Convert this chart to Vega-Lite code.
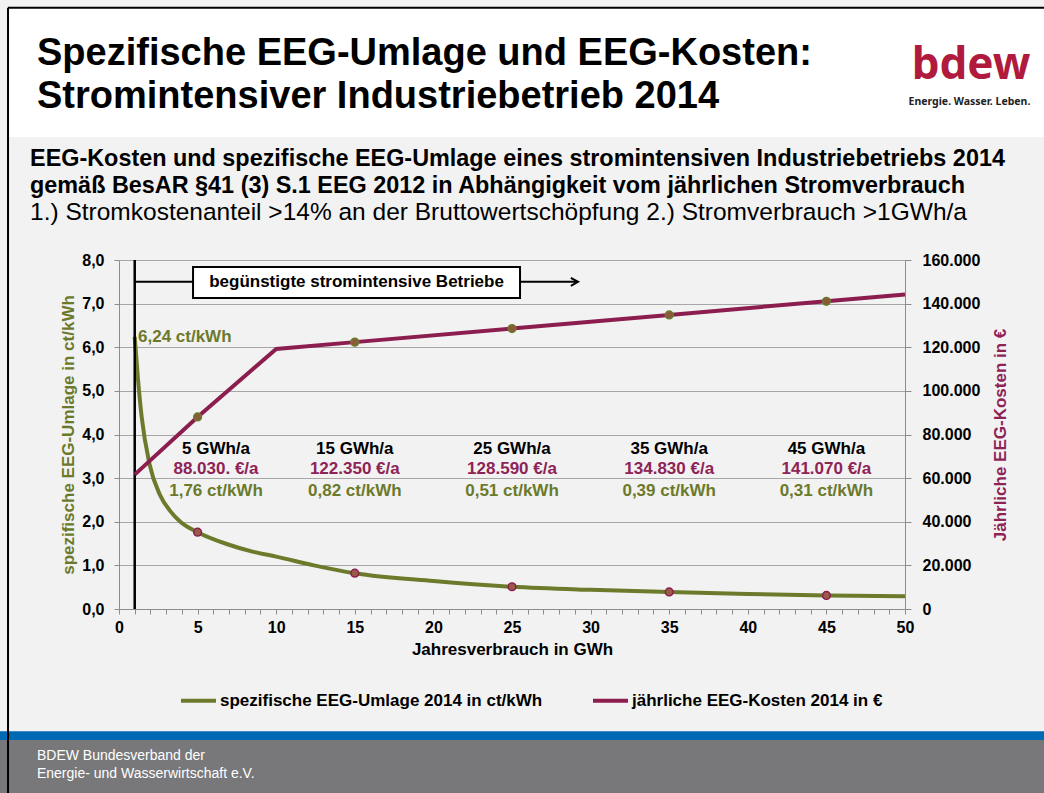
{
  "$schema": "https://vega.github.io/schema/vega-lite/v6.json",
  "width": 786,
  "height": 349,
  "autosize": {"type": "none"},
  "padding": {"left": 119, "top": 260, "right": 139, "bottom": 184},
  "background": "#f2f2f2",
  "config": {
    "locale": {"number": {"decimal": ",", "thousands": ".", "grouping": [3], "currency": ["", " €"]}},
    "font": "Liberation Sans",
    "view": {"stroke": null},
    "axis": {
      "domainColor": "#8c8c8c",
      "tickColor": "#8c8c8c",
      "gridColor": "#a6a6a6",
      "labelFont": "Liberation Sans",
      "labelFontWeight": "bold",
      "labelFontSize": 16,
      "labelColor": "#000000",
      "titleFont": "Liberation Sans",
      "titleFontWeight": "bold",
      "titleFontSize": 17,
      "titleColor": "#000000"
    },
    "axisX": {
      "labelExpr": "datum.value % 5 === 0 ? datum.label : ''",
      "labelOverlap": false,
      "labelFlush": false,
      "grid": false,
      "tickSize": 5,
      "labelPadding": 5,
      "titlePadding": 6
    }
  },
  "title": {
    "text": ["Spezifische EEG-Umlage und EEG-Kosten:", "Stromintensiver Industriebetrieb 2014"],
    "anchor": "start",
    "frame": "group",
    "dx": -82,
    "offset": -109,
    "font": "Liberation Sans",
    "fontSize": 38,
    "fontWeight": "bold",
    "lineHeight": 43,
    "color": "#000000"
  },
  "datasets": {
    "umlage": [
      {"gwh": 1, "ct": 6.24},
      {"gwh": 1.2, "ct": 5.3},
      {"gwh": 1.44, "ct": 4.41},
      {"gwh": 1.93, "ct": 3.34},
      {"gwh": 2.6, "ct": 2.62},
      {"gwh": 3.25, "ct": 2.25},
      {"gwh": 3.9, "ct": 2.0},
      {"gwh": 5, "ct": 1.76},
      {"gwh": 6.85, "ct": 1.49},
      {"gwh": 8.55, "ct": 1.31},
      {"gwh": 10, "ct": 1.2},
      {"gwh": 12.4, "ct": 1.0},
      {"gwh": 15, "ct": 0.82},
      {"gwh": 20, "ct": 0.64},
      {"gwh": 25, "ct": 0.51},
      {"gwh": 30, "ct": 0.44},
      {"gwh": 35, "ct": 0.39},
      {"gwh": 40, "ct": 0.345},
      {"gwh": 45, "ct": 0.31},
      {"gwh": 50, "ct": 0.29}
    ],
    "kosten": [
      {"gwh": 1, "eur": 61600},
      {"gwh": 5, "eur": 88030},
      {"gwh": 10, "eur": 119230},
      {"gwh": 15, "eur": 122350},
      {"gwh": 25, "eur": 128590},
      {"gwh": 35, "eur": 134830},
      {"gwh": 45, "eur": 141070},
      {"gwh": 50, "eur": 144190}
    ],
    "marken": [
      {"gwh": 5, "ct": 1.76, "eur": 88030, "verbrauch": "5 GWh/a", "kosten": "88.030. €/a", "umlage": "1,76 ct/kWh"},
      {"gwh": 15, "ct": 0.82, "eur": 122350, "verbrauch": "15 GWh/a", "kosten": "122.350 €/a", "umlage": "0,82 ct/kWh"},
      {"gwh": 25, "ct": 0.51, "eur": 128590, "verbrauch": "25 GWh/a", "kosten": "128.590 €/a", "umlage": "0,51 ct/kWh"},
      {"gwh": 35, "ct": 0.39, "eur": 134830, "verbrauch": "35 GWh/a", "kosten": "134.830 €/a", "umlage": "0,39 ct/kWh"},
      {"gwh": 45, "ct": 0.31, "eur": 141070, "verbrauch": "45 GWh/a", "kosten": "141.070 €/a", "umlage": "0,31 ct/kWh"}
    ]
  },
  "layer": [
    {
      "layer": [
        {
          "data": {"name": "umlage"},
          "mark": {"type": "line", "interpolate": "monotone", "strokeWidth": 4},
          "encoding": {
            "x": {
              "field": "gwh", "type": "quantitative",
              "scale": {"domain": [0, 50], "nice": false},
              "axis": {
                "title": "Jahresverbrauch in GWh",
                "values": [0,1,2,3,4,5,6,7,8,9,10,11,12,13,14,15,16,17,18,19,20,21,22,23,24,25,26,27,28,29,30,31,32,33,34,35,36,37,38,39,40,41,42,43,44,45,46,47,48,49,50],
                "tickCount": 100,
                "format": "d",
                "labelExpr": "datum.value % 5 === 0 ? datum.label : ''",
                "labelOverlap": false,
                "labelFlush": false,
                "grid": false,
                "tickSize": 5,
                "labelPadding": 5,
                "titlePadding": 6
              }
            },
            "y": {
              "field": "ct", "type": "quantitative",
              "scale": {"domain": [0, 8], "nice": false},
              "axis": {
                "title": "spezifische EEG-Umlage in ct/kWh",
                "titleColor": "#6b7a2a",
                "values": [0, 1, 2, 3, 4, 5, 6, 7, 8],
                "format": ".1f",
                "grid": true,
                "tickSize": 5,
                "labelPadding": 10,
                "titlePadding": 4
              }
            },
            "color": {
              "datum": "spezifische EEG-Umlage 2014 in ct/kWh",
              "scale": {
                "domain": ["spezifische EEG-Umlage 2014 in ct/kWh", "jährliche EEG-Kosten 2014 in €"],
                "range": ["#6b7b2b", "#8c1d4f"]
              },
              "legend": {
                "orient": "none",
                "legendX": 60,
                "legendY": 421,
                "direction": "horizontal",
                "title": null,
                "symbolType": "stroke",
                "symbolSize": 1225,
                "symbolStrokeWidth": 4,
                "labelFont": "Liberation Sans",
                "labelFontSize": 17,
                "labelFontWeight": "bold",
                "labelColor": "#000000",
                "labelOffset": 2,
                "labelLimit": 500,
                "columnPadding": 42
              }
            }
          }
        },
        {
          "data": {"values": [{}]},
          "mark": {"type": "rect", "color": "#ffffff"},
          "encoding": {"x": {"datum": -7.06}, "x2": {"datum": 59.5}, "y": {"datum": 10.82}, "y2": {"datum": 13.78}}
        },
        {
          "data": {"values": [{}]},
          "mark": {"type": "rect", "color": "#0069b4"},
          "encoding": {"x": {"datum": -7.6}, "x2": {"datum": 59.5}, "y": {"datum": -2.8}, "y2": {"datum": -3.0}}
        },
        {
          "data": {"values": [{}]},
          "mark": {"type": "rect", "color": "#78787a"},
          "encoding": {"x": {"datum": -7.6}, "x2": {"datum": 59.5}, "y": {"datum": -3.0}, "y2": {"datum": -4.6}}
        },
        {
          "data": {"values": [{}]},
          "mark": {"type": "rule", "color": "#000000", "strokeWidth": 2},
          "encoding": {"x": {"datum": -7.06}, "y": {"datum": -4.6}, "y2": {"datum": 13.78}}
        },
        {
          "data": {"values": [{}]},
          "mark": {"type": "rule", "color": "#000000", "strokeWidth": 2},
          "encoding": {"x": {"datum": -7.06}, "x2": {"datum": 59.5}, "y": {"datum": 13.78}}
        },
        {
          "data": {"values": [{}]},
          "mark": {"type": "text", "text": "bdew", "font": "Noto Sans", "fontSize": 44, "fontWeight": "bold", "color": "#b01a3c", "align": "center", "baseline": "alphabetic"},
          "encoding": {"x": {"datum": 54.2}, "y": {"datum": 12.15}}
        },
        {
          "data": {"values": [{}]},
          "mark": {"type": "text", "text": "Energie. Wasser. Leben.", "font": "Noto Sans", "fontSize": 10.5, "fontWeight": "bold", "color": "#222222", "align": "center", "baseline": "alphabetic"},
          "encoding": {"x": {"datum": 54.1}, "y": {"datum": 11.55}}
        },
        {
          "data": {"values": [{}]},
          "mark": {"type": "text", "text": "EEG-Kosten und spezifische EEG-Umlage eines stromintensiven Industriebetriebs 2014", "font": "Liberation Sans", "fontSize": 23.4, "fontWeight": "bold", "color": "#000000", "align": "left", "baseline": "alphabetic"},
          "encoding": {"x": {"datum": -5.66}, "y": {"datum": 10.155}}
        },
        {
          "data": {"values": [{}]},
          "mark": {"type": "text", "text": "gemäß BesAR §41 (3) S.1 EEG 2012 in Abhängigkeit vom jährlichen Stromverbrauch", "font": "Liberation Sans", "fontSize": 23.4, "fontWeight": "bold", "color": "#000000", "align": "left", "baseline": "alphabetic"},
          "encoding": {"x": {"datum": -5.66}, "y": {"datum": 9.536}}
        },
        {
          "data": {"values": [{}]},
          "mark": {"type": "text", "text": "1.) Stromkostenanteil >14% an der Bruttowertschöpfung 2.) Stromverbrauch >1GWh/a", "font": "Liberation Sans", "fontSize": 24.5, "fontWeight": "normal", "color": "#000000", "align": "left", "baseline": "alphabetic"},
          "encoding": {"x": {"datum": -5.66}, "y": {"datum": 8.917}}
        },
        {
          "data": {"values": [{}]},
          "mark": {"type": "text", "text": "BDEW Bundesverband der", "font": "Liberation Sans", "fontSize": 14, "color": "#ffffff", "align": "left", "baseline": "middle"},
          "encoding": {"x": {"datum": -5.22}, "y": {"datum": -3.37}}
        },
        {
          "data": {"values": [{}]},
          "mark": {"type": "text", "text": "Energie- und Wasserwirtschaft e.V.", "font": "Liberation Sans", "fontSize": 14, "color": "#ffffff", "align": "left", "baseline": "middle"},
          "encoding": {"x": {"datum": -5.22}, "y": {"datum": -3.79}}
        },
        {
          "data": {"values": [{}]},
          "mark": {"type": "rule", "color": "#000000", "strokeWidth": 2.5},
          "encoding": {"x": {"datum": 1}, "y": {"datum": 0}, "y2": {"datum": 8}}
        },
        {
          "data": {"values": [{}]},
          "mark": {"type": "rule", "color": "#000000", "strokeWidth": 2},
          "encoding": {"x": {"datum": 1}, "x2": {"datum": 4.71}, "y": {"datum": 7.5}}
        },
        {
          "data": {"values": [{}]},
          "mark": {"type": "rule", "color": "#000000", "strokeWidth": 2},
          "encoding": {"x": {"datum": 25.51}, "x2": {"datum": 29.1}, "y": {"datum": 7.5}}
        },
        {
          "data": {"values": [{}]},
          "mark": {"type": "point", "shape": "M -1.8 -1 L 0 0 L -1.8 1", "filled": false, "color": "#000000", "strokeWidth": 2, "size": 64, "opacity": 1},
          "encoding": {"x": {"datum": 29.2}, "y": {"datum": 7.5}}
        },
        {
          "data": {"values": [{}]},
          "mark": {"type": "rect", "fill": "#ffffff", "stroke": "#000000", "strokeWidth": 2},
          "encoding": {"x": {"datum": 4.71}, "x2": {"datum": 25.51}, "y": {"datum": 7.13}, "y2": {"datum": 7.84}}
        },
        {
          "data": {"values": [{}]},
          "mark": {"type": "text", "text": "begünstigte stromintensive Betriebe", "font": "Liberation Sans", "fontSize": 17, "fontWeight": "bold", "color": "#000000", "align": "center", "baseline": "middle"},
          "encoding": {"x": {"datum": 15.11}, "y": {"datum": 7.49}}
        },
        {
          "data": {"values": [{}]},
          "mark": {"type": "text", "text": "6,24 ct/kWh", "font": "Liberation Sans", "fontSize": 17, "fontWeight": "bold", "color": "#6b7a2a", "align": "left", "baseline": "middle"},
          "encoding": {"x": {"datum": 1.21}, "y": {"datum": 6.23}}
        },
        {
          "data": {"values": [{}]},
          "mark": {"type": "text", "text": "5 GWh/a", "font": "Liberation Sans", "fontSize": 17, "fontWeight": "bold", "color": "#000000", "align": "center", "baseline": "middle"},
          "encoding": {"x": {"datum": 6.17}, "y": {"datum": 3.67}}
        },
        {
          "data": {"values": [{}]},
          "mark": {"type": "text", "text": "88.030. €/a", "font": "Liberation Sans", "fontSize": 17, "fontWeight": "bold", "color": "#8e2356", "align": "center", "baseline": "middle"},
          "encoding": {"x": {"datum": 6.17}, "y": {"datum": 3.21}}
        },
        {
          "data": {"values": [{}]},
          "mark": {"type": "text", "text": "1,76 ct/kWh", "font": "Liberation Sans", "fontSize": 17, "fontWeight": "bold", "color": "#6b7a2a", "align": "center", "baseline": "middle"},
          "encoding": {"x": {"datum": 6.17}, "y": {"datum": 2.7}}
        },
        {
          "data": {"name": "marken"},
          "transform": [{"filter": "datum.gwh > 5"}],
          "mark": {"type": "text", "font": "Liberation Sans", "fontSize": 17, "fontWeight": "bold", "color": "#000000", "align": "center", "baseline": "middle"},
          "encoding": {"x": {"field": "gwh", "type": "quantitative"}, "y": {"datum": 3.67}, "text": {"field": "verbrauch"}}
        },
        {
          "data": {"name": "marken"},
          "transform": [{"filter": "datum.gwh > 5"}],
          "mark": {"type": "text", "font": "Liberation Sans", "fontSize": 17, "fontWeight": "bold", "color": "#8e2356", "align": "center", "baseline": "middle"},
          "encoding": {"x": {"field": "gwh", "type": "quantitative"}, "y": {"datum": 3.21}, "text": {"field": "kosten"}}
        },
        {
          "data": {"name": "marken"},
          "transform": [{"filter": "datum.gwh > 5"}],
          "mark": {"type": "text", "font": "Liberation Sans", "fontSize": 17, "fontWeight": "bold", "color": "#6b7a2a", "align": "center", "baseline": "middle"},
          "encoding": {"x": {"field": "gwh", "type": "quantitative"}, "y": {"datum": 2.7}, "text": {"field": "umlage"}}
        },
        {
          "data": {"name": "marken"},
          "mark": {"type": "point", "filled": true, "fill": "#9a5a4a", "stroke": "#8c1d4f", "strokeWidth": 1.5, "size": 60, "opacity": 1},
          "encoding": {"x": {"field": "gwh", "type": "quantitative"}, "y": {"field": "ct", "type": "quantitative"}}
        }
      ]
    },
    {
      "layer": [
        {
          "data": {"name": "kosten"},
          "mark": {"type": "line", "strokeWidth": 4},
          "encoding": {
            "x": {
              "field": "gwh", "type": "quantitative",
              "axis": {
                "title": "Jahresverbrauch in GWh",
                "values": [0,1,2,3,4,5,6,7,8,9,10,11,12,13,14,15,16,17,18,19,20,21,22,23,24,25,26,27,28,29,30,31,32,33,34,35,36,37,38,39,40,41,42,43,44,45,46,47,48,49,50],
                "tickCount": 100,
                "format": "d",
                "labelExpr": "datum.value % 5 === 0 ? datum.label : ''",
                "labelOverlap": false,
                "labelFlush": false,
                "grid": false,
                "tickSize": 5,
                "labelPadding": 5,
                "titlePadding": 6
              }
            },
            "y": {
              "field": "eur", "type": "quantitative",
              "scale": {"domain": [0, 160000], "nice": false},
              "axis": {
                "orient": "right",
                "title": "Jährliche EEG-Kosten in €",
                "titleColor": "#8e2356",
                "titleAngle": 270,
                "titleBaseline": "top",
                "values": [0, 20000, 40000, 60000, 80000, 100000, 120000, 140000, 160000],
                "format": ",.0f",
                "grid": false,
                "tickSize": 6,
                "labelPadding": 11,
                "titlePadding": 13
              }
            },
            "color": {"datum": "jährliche EEG-Kosten 2014 in €"}
          }
        },
        {
          "data": {"name": "marken"},
          "mark": {"type": "point", "filled": true, "fill": "#8a5a3a", "stroke": "#6b7b2b", "strokeWidth": 1.5, "size": 60, "opacity": 1},
          "encoding": {"x": {"field": "gwh", "type": "quantitative"}, "y": {"field": "eur", "type": "quantitative"}}
        }
      ]
    }
  ],
  "resolve": {"scale": {"y": "independent"}}
}
